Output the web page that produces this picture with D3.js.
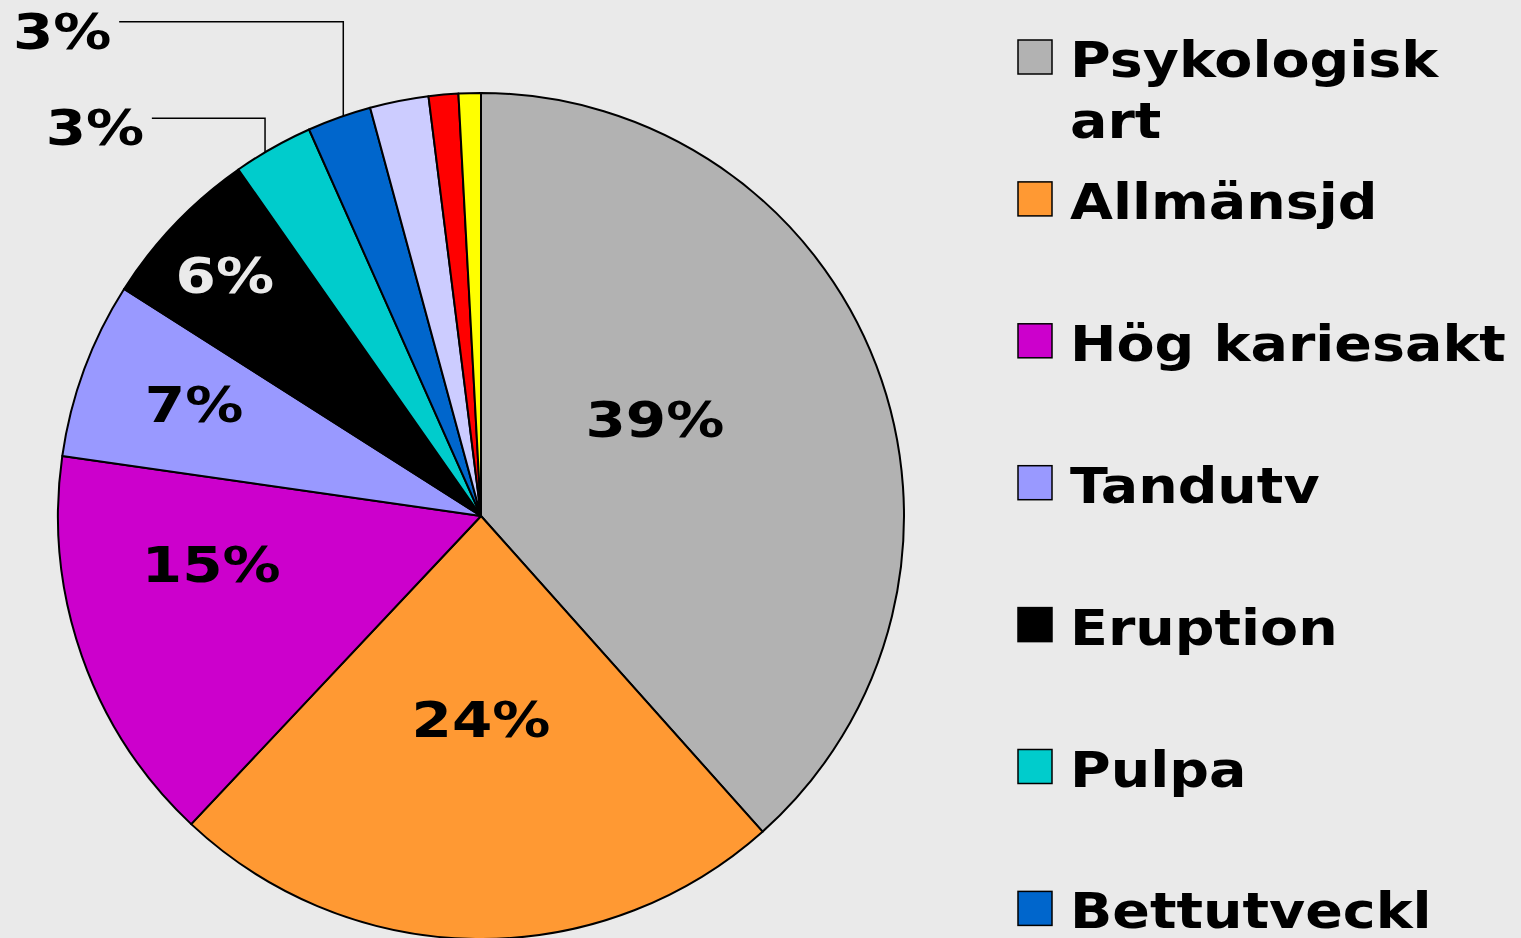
<!DOCTYPE html>
<html>
<head>
<meta charset="utf-8">
<script src="https://cdn.jsdelivr.net/npm/d3@7"></script>
<style>
  body { margin: 0; background: #eaeaea; overflow: hidden; }
  svg { display: block; }
  text { font-family: "DejaVu Sans", Verdana, sans-serif; font-weight: bold; }
</style>
</head>
<body>
<svg id="chart"></svg>
<script>
// slice data, clockwise from 12 o'clock
var categories = ["Psykologisk art", "Allmänsjd", "Hög kariesakt", "Tandutv", "Eruption",
                  "Pulpa", "Bettutveckl", "", "", ""]; // last three names are cut off in the original
var values = [38.4, 23.6, 15.25, 6.75, 6.26, 3.06, 2.44, 2.24, 1.13, 0.85];
var labels = ["39%", "24%", "15%", "7%", "6%", "3%", "3%", "", "", ""];
var colors = ["#b2b2b2", "#ff9933", "#cc00cc", "#9999ff", "#000000",
              "#00cccc", "#0066cc", "#ccccff", "#ff0000", "#ffff00"];

// label placement (polar, degrees clockwise from top / px from centre)
var labelAngle = [60.9, 180, 259.9, 291.3, 313.3, 315.2, 319.2];
var labelRadius = [199, 203, 274, 308, 352, 548, 641];
var leaderAngle = [null, null, null, null, null, 329.3, 341];

var width = 1521, height = 938;
var cx = 481, cy = 516, radius = 423;

var svg = d3.select("#chart")
    .attr("width", width)
    .attr("height", height);

var pie = d3.pie().sort(null).value(function(d) { return d; });
var arc = d3.arc().innerRadius(0).outerRadius(radius);
var arcs = pie(values);

var g = svg.append("g")
    .attr("transform", "translate(" + cx + "," + cy + ")");

g.selectAll("path.slice")
    .data(arcs)
  .enter().append("path")
    .attr("class", "slice")
    .attr("d", arc)
    .attr("fill", function(d, i) { return colors[i]; })
    .attr("stroke", "#000")
    .attr("stroke-width", 2)
    .attr("stroke-linejoin", "round");

function polar(angDeg, r) {
    var a = angDeg * Math.PI / 180;
    return [r * Math.sin(a), -r * Math.cos(a)];
}

// percent labels (stretched a bit, the original font is wider)
labels.forEach(function(t, i) {
    if (!t) return;
    var p = polar(labelAngle[i], labelRadius[i]);
    g.append("text")
        .attr("transform", "translate(" + p[0] + "," + p[1] + ") scale(1.16,1)")
        .attr("dy", "0.36em")
        .attr("text-anchor", "middle")
        .attr("font-size", 50)
        .attr("fill", colors[i] == "#000000" ? "#eaeaea" : "#000")
        .text(t);

    // leader line for labels outside the pie
    if (leaderAngle[i] != null) {
        var e = polar(leaderAngle[i], radius);
        var sx = p[0] + 57, sy = p[1] - 9;
        g.append("path")
            .attr("d", "M" + sx + "," + sy + "H" + e[0] + "V" + e[1])
            .attr("fill", "none")
            .attr("stroke", "#000")
            .attr("stroke-width", 1.5);
    }
});

// legend
var rowStep = 141.9, firstBase = 77, lineH = 61;
var legend = svg.append("g").attr("transform", "translate(1018,0)");

categories.forEach(function(name, i) {
    if (!name) return;
    var base = firstBase + i * rowStep;
    legend.append("rect")
        .attr("x", 0)
        .attr("y", base - 37)
        .attr("width", 34)
        .attr("height", 34)
        .attr("fill", colors[i])
        .attr("stroke", "#000")
        .attr("stroke-width", 1.5);

    var words = name == "Psykologisk art" ? ["Psykologisk", "art"] : [name];
    var txt = legend.append("text")
        .attr("transform", "translate(52," + base + ") scale(1.11,1)")
        .attr("font-size", 50)
        .attr("fill", "#000");
    words.forEach(function(w, j) {
        txt.append("tspan")
            .attr("x", 0)
            .attr("dy", j ? lineH : 0)
            .text(w);
    });
});
</script>
</body>
</html>
